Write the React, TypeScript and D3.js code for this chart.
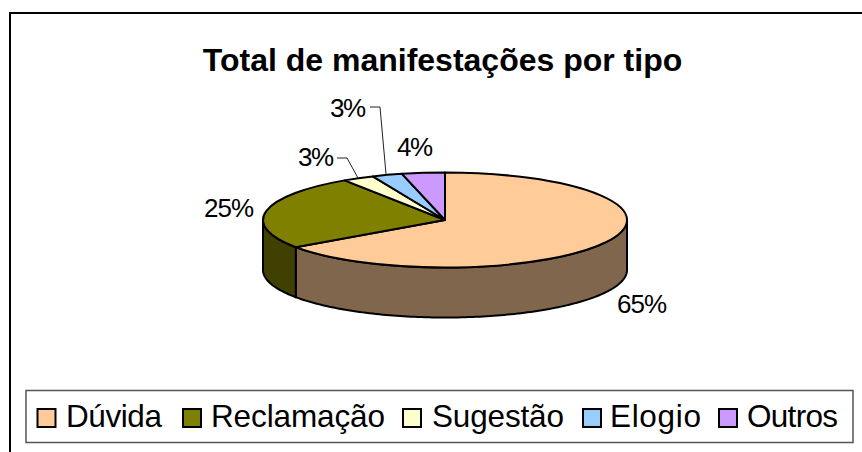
import React from 'react';
import * as d3 from 'd3';

const categories = ['Dúvida', 'Reclamação', 'Sugestão', 'Elogio', 'Outros'];
const values = [65.3, 25.4, 2.8, 2.7, 3.8];
const topColors = ['#ffcc99', '#808000', '#ffffcc', '#99ccff', '#cc99ff'];
const sideColors = ['#80664d', '#404000', '#808066', '#4d6680', '#664d80'];
const labels = ['65%', '25%', '3%', '3%', '4%'];

const W = 862;
const H = 452;
const FONT = 'Liberation Sans, Arial, sans-serif';

const cx = 445;
const cy = 220;
const rx = 182;
const ry = 47.5;
const depth = 50;

// pie slices, clockwise from 12 o'clock
const slices = d3.pie<number>().sort(null)(values);

// tilted disc: arc drawn round, then squashed with a scale
const arc = d3.arc<d3.PieArcDatum<number>>().innerRadius(0).outerRadius(rx);

const project = (a: number, dy = 0): [number, number] => [
  cx + rx * Math.sin(a),
  cy - ry * Math.cos(a) + dy,
];

const line = d3.line();

// outer wall of a slice, only the part facing the viewer
const wallPath = (s: d3.PieArcDatum<number>) => {
  const from = Math.max(s.startAngle, Math.PI / 2);
  const to = Math.min(s.endAngle, (3 * Math.PI) / 2);
  if (to <= from) return null;
  const angles = d3.range(from, to, 0.02).concat(to);
  const top = angles.map((a) => project(a));
  const bottom = angles.map((a) => project(a, depth)).reverse();
  return line([...top, ...bottom]) + 'Z';
};

// legend layout
const legendSwatchX = [37.5, 183, 403, 583, 719];
const legendTextX = [66, 211, 432, 610, 747];
const legendTextW = [96, 174, 132, 91, 91];

const labelPos: [number, number][] = [
  [642, 304],
  [229, 208],
  [316, 157],
  [348, 108],
  [415, 147],
];
// callouts for the two small slices
const leaders: [number, number][][] = [
  [],
  [],
  [[337, 158], [347, 158], [358, 178]],
  [[370, 107], [380, 107], [386, 174]],
  [],
];

export default function App() {
  return (
    <svg
      width={W}
      height={H}
      style={{ position: 'fixed', left: 0, top: 0, background: '#fff' }}
      fontFamily={FONT}
    >
      <path d={`M10 ${H}V13H${W}`} fill="none" stroke="#000" strokeWidth={2} />

      <text x={442.5} y={71} textAnchor="middle" fontSize={32} fontWeight="bold">
        Total de manifestações por tipo
      </text>

      {slices.map((s, i) => {
        const d = wallPath(s);
        return d ? (
          <path key={i} d={d} fill={sideColors[i]} stroke="#000" strokeWidth={2} strokeLinejoin="round" />
        ) : null;
      })}

      <g transform={`translate(${cx},${cy}) scale(1,${ry / rx})`}>
        {slices.map((s, i) => (
          <path
            key={i}
            d={arc(s) ?? ''}
            fill={topColors[i]}
            stroke="#000"
            strokeWidth={2}
            strokeLinejoin="round"
            style={{ vectorEffect: 'non-scaling-stroke' }}
          />
        ))}
      </g>

      {leaders.map((pts, i) =>
        pts.length ? <path key={i} d={line(pts) ?? ''} fill="none" stroke="#222" strokeWidth={1} /> : null,
      )}

      {labels.map((t, i) => (
        <text key={i} x={labelPos[i][0]} y={labelPos[i][1] + 9} textAnchor="middle" fontSize={26} textLength={t.length === 3 ? 50 : 36}>
          {t}
        </text>
      ))}

      <rect x={26} y={390.5} width={827} height={52} fill="#fff" stroke="#555" strokeWidth={1.5} />
      {categories.map((c, i) => (
        <g key={c}>
          <rect x={legendSwatchX[i]} y={409} width={18} height={18} fill={topColors[i]} stroke="#000" strokeWidth={2} />
          <text x={legendTextX[i]} y={427} fontSize={31.5} textLength={legendTextW[i]}>
            {c}
          </text>
        </g>
      ))}
    </svg>
  );
}
